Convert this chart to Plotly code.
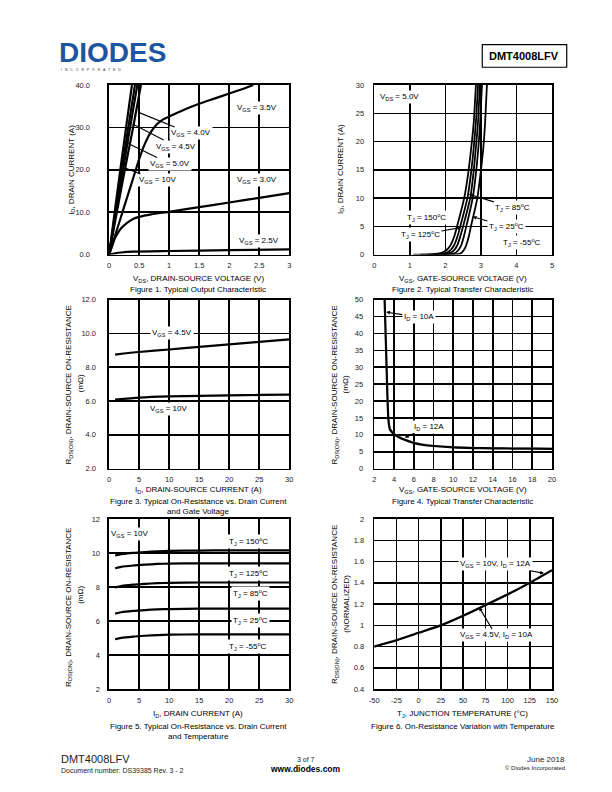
import plotly.graph_objects as go

W, H = 612, 792
FONT = "Liberation Sans, Arial, sans-serif"

# ---------------- data ----------------
# Fig 1: output characteristic (VDS [V], ID [A])
f1_vds_10v = [0, 0.1, 0.2, 0.3, 0.38]
f1_id_10v = [0, 10.8, 21.4, 31.8, 40]
f1_vds_50v = [0, 0.1, 0.2, 0.3, 0.43]
f1_id_50v = [0, 9.6, 19.0, 28.2, 40]
f1_vds_45v = [0, 0.1, 0.2, 0.3, 0.4, 0.47]
f1_id_45v = [0, 8.8, 17.4, 25.8, 34.2, 40]
f1_vds_40v = [0, 0.1, 0.2, 0.3, 0.4, 0.53]
f1_id_40v = [0, 7.8, 15.4, 22.8, 30.0, 40]
f1_vds_35v = [0, 0.1, 0.2, 0.3, 0.4, 0.5, 0.6, 0.7, 0.8, 0.9, 1.0, 1.25, 1.5, 1.75, 2.0, 2.25, 2.4]
f1_id_35v = [0, 4.5, 9.0, 13.5, 18.0, 22.5, 26.3, 29.0, 30.8, 31.9, 32.6, 34.2, 35.6, 36.8, 38.0, 39.2, 40.0]
f1_vds_30v = [0, 0.05, 0.1, 0.15, 0.2, 0.3, 0.4, 0.5, 0.7, 1.0, 1.5, 2.0, 2.5, 3.0]
f1_id_30v = [0, 2.0, 4.0, 5.2, 6.2, 7.5, 8.4, 8.9, 9.5, 10.1, 11.2, 12.3, 13.4, 14.5]
f1_vds_25v = [0, 0.1, 0.2, 0.4, 1.0, 2.0, 3.0]
f1_id_25v = [0, 0.3, 0.5, 0.7, 0.85, 1.05, 1.25]
f1_xticks = ["0", "0.5", "1", "1.5", "2", "2.5", "3"]

# Fig 2: transfer characteristic (VGS [V], ID [A]) per junction temperature
f2_vgs_150 = [1.1, 1.6, 1.9, 2.05, 2.15, 2.25, 2.33, 2.43, 2.53, 2.63, 2.73, 2.8, 2.86]
f2_id_150 = [0, 0.05, 0.3, 0.9, 1.7, 3.2, 5.0, 7.4, 10.0, 13.8, 19.0, 23.5, 30.0]
f2_vgs_125 = [1.3, 1.75, 2.02, 2.16, 2.25, 2.34, 2.42, 2.52, 2.62, 2.71, 2.8, 2.86, 2.92]
f2_id_125 = [0, 0.05, 0.3, 0.9, 1.7, 3.2, 5.0, 7.4, 10.0, 13.8, 19.0, 23.5, 30.0]
f2_vgs_85 = [1.5, 1.9, 2.14, 2.26, 2.34, 2.42, 2.5, 2.6, 2.7, 2.78, 2.86, 2.92, 2.97]
f2_id_85 = [0, 0.05, 0.3, 0.9, 1.7, 3.2, 5.0, 7.4, 10.0, 13.8, 19.0, 23.5, 30.0]
f2_vgs_25 = [1.7, 2.08, 2.28, 2.38, 2.45, 2.52, 2.59, 2.68, 2.77, 2.85, 2.93, 2.98, 3.03]
f2_id_25 = [0, 0.05, 0.3, 0.9, 1.7, 3.2, 5.0, 7.4, 10.0, 13.8, 19.0, 23.5, 30.0]
f2_vgs_m55 = [1.95, 2.3, 2.45, 2.53, 2.59, 2.66, 2.72, 2.81, 2.9, 2.98, 3.07, 3.12, 3.17]
f2_id_m55 = [0, 0.05, 0.3, 0.9, 1.7, 3.2, 5.0, 7.4, 10.0, 13.8, 19.0, 23.5, 30.0]

# Fig 3: RDS(ON) [mOhm] vs ID [A]
f3_id = [1, 5, 10, 15, 20, 25, 30]
f3_r_45v = [8.75, 8.9, 9.05, 9.2, 9.35, 9.5, 9.65]
f3_r_10v = [6.08, 6.2, 6.27, 6.3, 6.33, 6.36, 6.38]

# Fig 4: RDS(ON) [mOhm] vs VGS [V]
f4_vgs = [3.05, 3.15, 3.25, 3.35, 3.45, 3.6, 4, 4.5, 5, 6, 7, 8, 10, 12, 14, 16, 18, 20]
f4_r_10a = [50, 40, 30, 20, 14, 11.5, 10.2, 9.3, 8.6, 7.6, 7.0, 6.7, 6.3, 6.1, 6.0, 5.95, 5.9, 5.85]
f4_r_12a = [50, 40, 30, 20.5, 14.5, 12.0, 10.4, 9.5, 8.8, 7.8, 7.2, 6.85, 6.45, 6.25, 6.1, 6.05, 6.0, 5.95]

# Fig 5: RDS(ON) [mOhm] vs ID [A] per junction temperature
f5_id = [1, 2, 4, 6, 8, 10, 15, 20, 25, 30]
f5_r_150 = [9.86, 9.93, 10.01, 10.06, 10.1, 10.13, 10.15, 10.16, 10.16, 10.16]
f5_r_125 = [9.11, 9.19, 9.27, 9.32, 9.36, 9.38, 9.4, 9.4, 9.4, 9.4]
f5_r_85 = [7.98, 8.06, 8.14, 8.19, 8.23, 8.25, 8.27, 8.27, 8.27, 8.27]
f5_r_25 = [6.44, 6.52, 6.6, 6.65, 6.69, 6.71, 6.73, 6.73, 6.73, 6.73]
f5_r_m55 = [4.93, 5.01, 5.09, 5.14, 5.18, 5.2, 5.22, 5.22, 5.22, 5.22]

# Fig 6: normalized RDS(ON) vs TJ [degC]
f6_tj = [-50, -25, 0, 25, 50, 75, 100, 125, 150]
f6_r_10v = [0.8, 0.86, 0.93, 1.0, 1.09, 1.19, 1.29, 1.4, 1.52]
f6_r_45v = [0.8, 0.862, 0.932, 1.002, 1.092, 1.192, 1.293, 1.403, 1.515]
f6_xtick_vals = [-50, -25, 0, 25, 50, 75, 100, 125, 150]
f6_xtick_text = ["-50", "-25", "0", "25", "50", "75", "100", "125", "150"]

# ---------------- layout helpers ----------------
def fx(x):
    return x / W


def fy(y):
    return 1 - y / H


LEFT = [fx(106), fx(289.5)]
RIGHT = [fx(376), fx(557)]
ROW1 = [fy(253.5), fy(82)]
ROW2 = [fy(470), fy(299)]
ROW3 = [fy(693), fy(521)]


def ax(dom, rng, dtick, anchor, standoff=3, tickformat=None, tickvals=None, ticktext=None):
    d = dict(domain=dom, range=rng, dtick=dtick, anchor=anchor,
             showgrid=True, gridcolor="black", gridwidth=1.6,
             showline=True, linecolor="black", linewidth=1.6, mirror=True,
             zeroline=False, ticks="", ticklabelstandoff=standoff,
             tickfont=dict(family=FONT, size=7.5, color="#222"),
             fixedrange=True)
    if tickformat:
        d["tickformat"] = tickformat
    if tickvals is not None:
        d["tickmode"] = "array"
        d["tickvals"] = tickvals
        d["ticktext"] = ticktext
    return d


fig = go.Figure()

LW = 2.2


def line(x, y, n, color="black", width=LW):
    fig.add_trace(go.Scatter(x=x, y=y, mode="lines", xaxis="x" + n, yaxis="y" + n,
                             line=dict(color=color, width=width, shape="spline", smoothing=0.6),
                             showlegend=False, hoverinfo="skip"))


# fig 1
for xs, ys in [(f1_vds_25v, f1_id_25v), (f1_vds_30v, f1_id_30v), (f1_vds_35v, f1_id_35v),
               (f1_vds_40v, f1_id_40v), (f1_vds_45v, f1_id_45v), (f1_vds_50v, f1_id_50v),
               (f1_vds_10v, f1_id_10v)]:
    line(xs, ys, "1")
# fig 2
for xs, ys in [(f2_vgs_150, f2_id_150), (f2_vgs_125, f2_id_125), (f2_vgs_85, f2_id_85),
               (f2_vgs_25, f2_id_25), (f2_vgs_m55, f2_id_m55)]:
    line(xs, ys, "2", width=1.8)
# fig 3
line(f3_id, f3_r_45v, "3")
line(f3_id, f3_r_10v, "3")
# fig 4
line(f4_vgs, f4_r_12a, "4", color="#999", width=1.6)
line(f4_vgs, f4_r_10a, "4")
# fig 5
for ys in [f5_r_150, f5_r_125, f5_r_85, f5_r_25, f5_r_m55]:
    line(f5_id, ys, "5")
# fig 6
line(f6_tj, f6_r_45v, "6", color="#999", width=2)
line(f6_tj, f6_r_10v, "6")

fig.update_layout(
    width=W, height=H, autosize=False,
    margin=dict(l=0, r=0, t=0, b=0),
    paper_bgcolor="white", plot_bgcolor="white",
    font=dict(family=FONT, size=8, color="black"),
    xaxis=ax(LEFT, [0, 3], 0.5, "y", 3, tickvals=[0, 0.5, 1, 1.5, 2, 2.5, 3], ticktext=f1_xticks),
    yaxis=ax(ROW1, [0, 40], 10, "x", 16, tickformat=".1f"),
    xaxis2=ax(RIGHT, [0, 5], 1, "y2", 3),
    yaxis2=ax(ROW1, [0, 30], 5, "x2", 7),
    xaxis3=ax(LEFT, [0, 30], 5, "y3", 3),
    yaxis3=ax(ROW2, [2, 12], 2, "x3", 10, tickformat=".1f"),
    xaxis4=ax(RIGHT, [2, 20], 2, "y4", 3),
    yaxis4=ax(ROW2, [0, 50], 5, "x4", 8),
    xaxis5=ax(LEFT, [0, 30], 5, "y5", 3),
    yaxis5=ax(ROW3, [2, 12], 2, "x5", 6),
    xaxis6=ax(RIGHT, [-50, 150], 25, "y6", 3, tickvals=f6_xtick_vals, ticktext=f6_xtick_text),
    yaxis6=ax(ROW3, [0.4, 2], 0.2, "x6", 7),
)

ann = []


def lab(n, x, y, text, hx=None, hy=None, head=2, bg="white"):
    a = dict(xref="x" + n, yref="y" + n, text=text, font=dict(family=FONT, size=8, color="black"),
             bgcolor=bg, borderpad=1)
    if hx is None:
        a.update(x=x, y=y, showarrow=False)
    else:
        a.update(x=hx, y=hy, ax=x, ay=y, axref="x" + n, ayref="y" + n, showarrow=True,
                 arrowhead=head, arrowsize=0.7, arrowwidth=1.1, arrowcolor="black")
    ann.append(a)


VGS = "V<sub>GS</sub>"
TJ = "T<sub>J</sub>"
# fig 1 labels
lab("1", 2.46, 34.6, VGS + " = 3.5V")
lab("1", 1.36, 28.6, VGS + " = 4.0V", 0.5, 33.5, head=0)
lab("1", 1.12, 25.5, VGS + " = 4.5V", 0.39, 30.8, head=0)
lab("1", 1.02, 21.4, VGS + " = 5.0V", 0.31, 26.3, head=0)
lab("1", 0.8, 17.5, VGS + " = 10V", 0.22, 20.7, head=0)
lab("1", 2.46, 17.6, VGS + " = 3.0V")
lab("1", 2.5, 3.2, VGS + " = 2.5V")
# fig 2 labels
lab("2", 0.72, 27.8, "V<sub>DS</sub> = 5.0V")
lab("2", 3.9, 8.3, TJ + " = 85<sup>o</sup>C", 2.66, 10.7)
lab("2", 3.72, 5.0, TJ + " = 25<sup>o</sup>C", 2.77, 6.7)
lab("2", 1.47, 6.5, TJ + " = 150<sup>o</sup>C")
lab("2", 1.3, 3.5, TJ + " = 125<sup>o</sup>C", 2.45, 4.8)
lab("2", 4.17, 2.2, TJ + " = -55<sup>o</sup>C")
# fig 3 labels
lab("3", 10.5, 10.0, VGS + " = 4.5V")
lab("3", 9.9, 5.5, VGS + " = 10V")
# fig 4 labels
lab("4", 6.5, 44.8, "I<sub>D</sub> = 10A", 3.2, 46.3)
lab("4", 7.5, 12.4, "I<sub>D</sub> = 12A", 5.1, 9.2)
# fig 5 labels
lab("5", 3.4, 11.15, VGS + " = 10V")
lab("5", 23.2, 10.68, TJ + " = 150<sup>o</sup>C")
lab("5", 23.2, 8.8, TJ + " = 125<sup>o</sup>C")
lab("5", 23.5, 7.6, TJ + " = 85<sup>o</sup>C")
lab("5", 23.5, 6.06, TJ + " = 25<sup>o</sup>C")
lab("5", 23.2, 4.5, TJ + " = -55<sup>o</sup>C")
# fig 6 labels
lab("6", 86, 1.575, VGS + " = 10V, I<sub>D</sub> = 12A", 141, 1.49)
lab("6", 87, 0.905, VGS + " = 4.5V, I<sub>D</sub> = 10A", 68, 1.17)


def ptext(x, y, text, size=8, xanchor="center", angle=0, bold=False, color="black"):
    if bold:
        text = "<b>" + text + "</b>"
    ann.append(dict(xref="paper", yref="paper", x=fx(x), y=fy(y), text=text, showarrow=False,
                    xanchor=xanchor, yanchor="middle", textangle=angle,
                    font=dict(family=FONT, size=size, color=color)))


# axis titles and captions
ptext(197, 278, "V<sub>DS</sub>, DRAIN-SOURCE VOLTAGE (V)")
ptext(197, 289, "Figure 1. Typical Output Characteristic")
ptext(68, 168, "I<sub>D</sub>, DRAIN CURRENT (A)", angle=-90)

ptext(466, 278, VGS + ", GATE-SOURCE VOLTAGE (V)")
ptext(466, 289, "Figure 2. Typical Transfer Characteristic")
ptext(342, 167, "I<sub>D</sub>, DRAIN CURRENT (A)", angle=-90)

RDS = "R<sub>DS(ON)</sub>, DRAIN-SOURCE ON-RESISTANCE"
ptext(197, 492, "I<sub>D</sub>, DRAIN-SOURCE CURRENT (A)")
ptext(197, 503, "Figure 3. Typical On-Resistance vs. Drain Current")
ptext(197, 513, "and Gate Voltage")
ptext(65, 385, RDS, angle=-90)
ptext(77, 384, "(mΩ)", angle=-90)

ptext(466, 492, VGS + ", GATE-SOURCE VOLTAGE (V)")
ptext(466, 503, "Figure 4. Typical Transfer Characteristic")
ptext(336, 385, RDS, angle=-90)
ptext(347, 385, "(mΩ)", angle=-90)

ptext(197, 718, "I<sub>D</sub>, DRAIN CURRENT (A)")
ptext(197, 731, "Figure 5. Typical On-Resistance vs. Drain Current")
ptext(197, 741, "and Temperature")
ptext(65, 610, RDS, angle=-90)
ptext(77, 598, "(mΩ)", angle=-90)

ptext(466, 718, TJ + ", JUNCTION TEMPERATURE (°C)")
ptext(466, 731, "Figure 6. On-Resistance Variation with Temperature")
ptext(336, 607, RDS, angle=-90)
ptext(347, 607, "(NORMALIZED)", angle=-90)

# header
ptext(53, 49, "DIODES", size=28, xanchor="left", bold=True, color="#1d56a0")
ptext(55, 67, "I &nbsp; N &nbsp; C &nbsp; O &nbsp; R &nbsp; P &nbsp; O &nbsp; R &nbsp; A &nbsp; T &nbsp; E &nbsp; D",
      size=3.5, xanchor="left", color="#333")
ptext(529, 52.5, "DMT4008LFV", size=11, bold=True)

# footer
ptext(55, 764, "DMT4008LFV", size=11, xanchor="left", color="#222")
ptext(55, 775, "Document number: DS39385 Rev. 3 - 2", size=7, xanchor="left", color="#222")
ptext(306, 764, "3 of 7", size=7, color="#222")
ptext(306, 774, "www.diodes.com", size=8.5, bold=True)
ptext(572, 764, "June 2018", size=8, xanchor="right", color="#222")
ptext(572, 773, "© Diodes Incorporated", size=6, xanchor="right", color="#222")

fig.update_layout(annotations=ann,
                  shapes=[dict(type="rect", xref="paper", yref="paper",
                               x0=fx(486), x1=fx(572), y0=fy(64), y1=fy(41),
                               line=dict(color="black", width=1.2))])

fig.write_html("out.html",
               config={"displayModeBar": False, "staticPlot": True},
               post_script="document.body.style.margin='0';document.body.style.padding='0';"
                           "document.body.style.overflow='hidden';")
